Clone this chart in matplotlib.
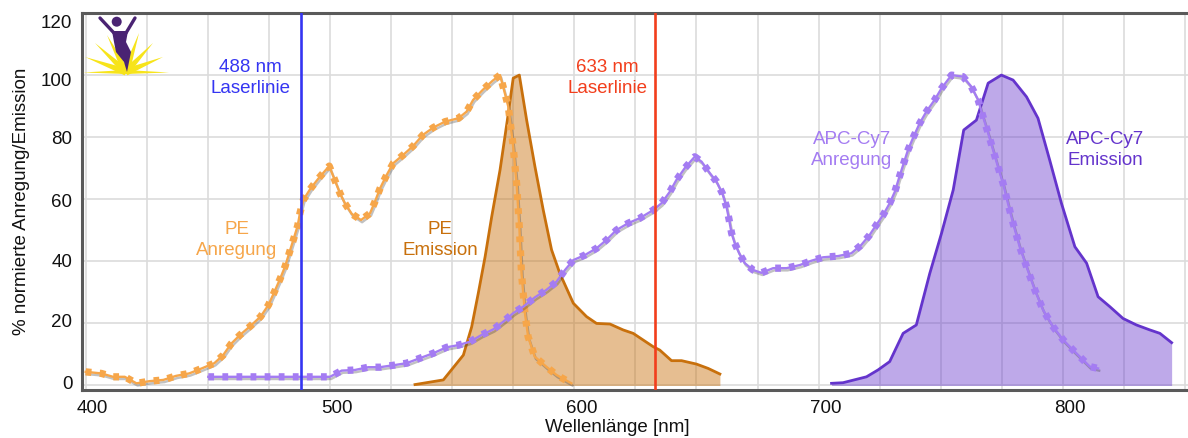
import numpy as np
import matplotlib
matplotlib.use('Agg')
import matplotlib.pyplot as plt
import matplotlib.patheffects as pe
from matplotlib.patches import Polygon, Circle
from matplotlib.transforms import ScaledTranslation

plt.rcParams['font.family'] = ['Liberation Sans', 'DejaVu Sans']

# PE Anregung (Excitation)
pe_ex_x = [400.0, 406.4, 411.2, 416.0, 420.8, 426.2, 431.8, 437.0, 442.4, 447.5,
           452.7, 456.3, 459.5, 463.2, 467.5, 471.6, 474.8, 477.1, 479.5, 481.6,
           483.3, 485.0, 486.8, 487.7, 489.1, 492.1, 495.6, 499.7, 501.4, 504.1,
           506.1, 508.9, 512.7, 516.4, 518.4, 520.5, 523.2, 525.9, 530.0, 534.1,
           538.0, 542.3, 547.1, 552.6, 555.9, 558.6, 562.5, 566.6, 569.6, 571.6,
           573.0, 575.0, 576.4, 577.5, 578.4, 579.8, 581.1, 583.8, 588.6, 592.7, 598.8]
pe_ex_y = [4.4, 3.9, 2.8, 2.8, 0.7, 1.4, 1.8, 3.1, 3.9, 5.5,
           7.2, 9.8, 13.4, 16.3, 19.2, 22.2, 25.9, 29.9, 34.2, 38.3,
           42.6, 46.9, 51.5, 55.5, 59.8, 63.5, 67.0, 70.7, 67.3, 61.9,
           58.7, 55.3, 53.3, 55.5, 59.2, 63.5, 67.8, 71.6, 74.3, 77.2,
           80.7, 83.1, 85.0, 86.1, 88.2, 92.0, 95.2, 98.2, 100.0, 94.1,
           89.8, 76.9, 65.0, 51.0, 36.1, 23.3, 15.7, 9.3, 6.0, 3.4, 0.7]

# PE Emission
pe_em_x = [534.8, 546.4, 554.6, 558.0, 560.7, 563.5, 566.2, 569.6, 572.6, 575.0,
           577.5, 580.5, 583.9, 587.3, 590.7, 594.1, 599.6, 605.0, 609.1, 614.6,
           620.0, 624.1, 632.3, 635.0, 639.8, 643.9, 650.0, 654.8, 659.6]
pe_em_y = [0.3, 1.8, 9.8, 18.9, 29.7, 41.5, 54.4, 69.4, 85.5, 99.0,
           100.0, 85.5, 70.5, 56.5, 43.7, 36.1, 26.5, 22.2, 20.0, 19.8,
           17.9, 16.8, 12.5, 11.4, 8.0, 8.0, 6.9, 5.5, 3.7]

# APC-Cy7 Anregung
apc_ex_x = [450.2, 455.7, 461.0, 466.5, 472.0, 477.5, 483.0, 488.5, 494.5, 500.0,
            504.8, 510.2, 515.7, 520.5, 526.6, 531.4, 536.8, 542.3, 547.7, 552.5,
            557.3, 562.1, 566.9, 571.0, 575.0, 579.1, 583.9, 588.6, 592.7, 596.2,
            599.6, 604.3, 609.1, 613.2, 617.3, 622.1, 626.8, 632.3, 635.7, 639.1,
            641.8, 645.2, 649.3, 652.1, 655.5, 658.2, 660.6, 662.3, 663.4, 664.4,
            665.7, 667.5, 669.8, 673.2, 676.6, 681.4, 686.9, 692.3, 697.1, 701.8,
            708.0, 713.4, 717.5, 720.9, 723.6, 726.4, 729.1, 731.2, 732.9, 734.6,
            736.6, 738.9, 741.4, 744.1, 747.5, 750.3, 754.4, 759.1, 762.5, 765.3,
            767.3, 769.4, 771.4, 773.4, 775.5, 777.5, 779.6, 782.3, 785.1, 788.5,
            791.9, 796.0, 800.1, 804.2, 808.3, 811.0, 814.4]
apc_ex_y = [2.8, 2.8, 2.8, 2.8, 2.8, 2.8, 2.8, 2.8, 2.8, 2.8,
            4.8, 5.0, 5.9, 5.9, 6.6, 7.2, 8.8, 10.4, 12.3, 13.0,
            14.1, 16.3, 18.1, 20.6, 23.3, 25.4, 28.4, 30.8, 33.4, 37.2,
            40.4, 42.0, 44.2, 46.9, 50.1, 52.3, 53.9, 56.5, 58.7, 62.4,
            66.2, 70.0, 73.7, 72.1, 68.4, 65.7, 61.9, 57.6, 53.3, 49.0,
            45.8, 42.6, 39.4, 37.2, 36.3, 37.8, 37.8, 38.8, 40.2, 41.3,
            41.7, 42.6, 45.3, 48.5, 51.7, 54.9, 58.7, 62.4, 66.8, 71.0,
            75.9, 80.2, 84.5, 88.2, 92.0, 95.7, 100.0, 99.5, 96.3, 92.0,
            86.6, 81.3, 75.9, 70.5, 65.1, 58.7, 52.3, 44.7, 38.3, 30.8,
            24.3, 18.9, 14.7, 11.4, 8.2, 6.1, 5.5]

# APC-Cy7 Emission
apc_em_x = [705.3, 710.0, 719.6, 724.3, 729.1, 734.6, 740.0, 745.5, 750.3, 755.1,
            759.4, 764.6, 769.4, 774.8, 779.6, 785.1, 789.8, 794.6, 799.4, 804.9,
            809.7, 814.4, 819.2, 824.6, 830.1, 835.6, 839.7, 844.5]
apc_em_y = [0.7, 0.9, 2.8, 5.0, 7.7, 16.8, 19.5, 36.1, 49.0, 63.0,
            82.3, 85.5, 97.4, 100.0, 98.4, 93.0, 86.1, 72.6, 58.7, 44.7,
            39.4, 28.6, 25.4, 21.6, 19.5, 17.9, 16.8, 13.8]

laser_lines = [488, 633]
x_ticks = [400, 500, 600, 700, 800]
y_ticks = [0, 20, 40, 60, 80, 100, 120]

c_pe_ex = '#F6A64A'
c_pe_em = '#C8700C'
c_apc_ex = '#A47CF2'
c_apc_em = '#6434CC'
c_488 = '#3535F2'
c_633 = '#F23E1C'

fig = plt.figure(figsize=(11.88, 4.38), dpi=100)
ax = fig.add_axes([82 / 1188, 48 / 438, 1106 / 1188, 377 / 438])
ax.set_xlim(398.5, 851.2)
ax.set_ylim(-1.45, 120)

ax.set_xticks(x_ticks)
ax.set_xticks(np.arange(400, 851, 25), minor=True)
ax.set_yticks(y_ticks)
ax.set_axisbelow(True)
ax.grid(which='both', color='#dcdcdc', lw=1.2)
ax.tick_params(which='both', length=0, labelsize=13.5, pad=7, labelcolor='#111111')
for lab in ax.get_xticklabels():
    lab.set_transform(lab.get_transform() + ScaledTranslation(7 / 100, 0, fig.dpi_scale_trans))
# y-Beschriftungen sitzen im Original leicht versetzt
for lab, dy in zip(ax.get_yticklabels(), [3, 3, 1, -1, 0, -4, -9]):
    lab.set_transform(lab.get_transform() + ScaledTranslation(0, dy / 100, fig.dpi_scale_trans))

for s in ['left', 'bottom', 'top']:
    ax.spines[s].set_color('#5a5a5a')
    ax.spines[s].set_linewidth(2.2)
ax.spines['right'].set_visible(False)

# Emissionen (gefuellt)
ax.fill_between(pe_em_x, 0, pe_em_y, color=c_pe_em, alpha=0.45, lw=0, zorder=2)
ax.plot(pe_em_x, pe_em_y, color=c_pe_em, lw=2, zorder=2.5)
ax.fill_between(apc_em_x, 0, apc_em_y, color=c_apc_em, alpha=0.42, lw=0, zorder=2)
ax.plot(apc_em_x, apc_em_y, color=c_apc_em, lw=2, zorder=2.5)


def dotted(x, y, col, z):
    shadow = [pe.SimpleLineShadow(offset=(0.8, -1.6), shadow_color='#333333', alpha=0.3), pe.Normal()]
    ax.plot(x, y, color=col, lw=1.7, zorder=z, path_effects=shadow)
    ax.plot(x, y, color=col, lw=5.2, dashes=(0.8, 1.15), dash_capstyle='butt',
            zorder=z + 0.1)


# Anregungen (gepunktet)
dotted(pe_ex_x, pe_ex_y, c_pe_ex, 3)
dotted(apc_ex_x, apc_ex_y, c_apc_ex, 3.5)

ax.axvline(laser_lines[0], color=c_488, lw=1.9, zorder=5)
ax.axvline(laser_lines[1], color=c_633, lw=1.9, zorder=5)

fs = 13.5
ls = 1.3
ax.text(467.3, 99, '488 nm\nLaserlinie', color=c_488, fontsize=fs, ha='center', va='center', linespacing=ls)
ax.text(613.4, 99, '633 nm\nLaserlinie', color=c_633, fontsize=fs, ha='center', va='center', linespacing=ls)
ax.text(461.9, 47, 'PE\nAnregung', color=c_pe_ex, fontsize=fs, ha='center', va='center', linespacing=ls)
ax.text(545.0, 47, 'PE\nEmission', color=c_pe_em, fontsize=fs, ha='center', va='center', linespacing=ls)
ax.text(713.7, 76, 'APC-Cy7\nAnregung', color=c_apc_ex, fontsize=fs, ha='center', va='center', linespacing=ls)
ax.text(817.2, 76, 'APC-Cy7\nEmission', color=c_apc_em, fontsize=fs, ha='center', va='center', linespacing=ls)

fig.text(617 / 1188, 1 - 427 / 438, 'Wellenlänge [nm]', fontsize=fs, ha='center', va='center', color='#111111')
fig.text(22 / 1188, 1 - 201 / 438, '% normierte Anregung/Emission', fontsize=fs, ha='center', va='center',
         rotation=90, color='#111111')

# Logo oben links
lg = fig.add_axes([82 / 1188, 1 - 76 / 438, 90 / 1188, 62 / 438])
lg.set_xlim(0, 90)
lg.set_ylim(0, 62)
lg.axis('off')
origin = np.array([44.0, 4.0])
tips = [(1, 3.5), (3, 19), (13, 33), (25, 41), (87, 3.5), (81, 19), (71, 33), (57, 43)]
for t in tips:
    t = np.array(t, dtype=float)
    d = t - origin
    n = np.array([-d[1], d[0]]) / np.hypot(*d)
    w = 2.0 if abs(d[1]) < 1 else 3.6
    lg.add_patch(Polygon([origin + n * w, origin - n * w, t], closed=True, color='#F7E41A', lw=0))
purple = '#4A2373'
lg.add_patch(Polygon([(30, 45), (46, 45), (44, 34), (49, 24), (45, 4), (42, 14), (34, 24), (32, 34)],
                     closed=True, color=purple, lw=0))
lg.plot([32, 18], [43, 58], color=purple, lw=2.4, solid_capstyle='round')
lg.plot([44, 53], [43, 58], color=purple, lw=2.4, solid_capstyle='round')
lg.add_patch(Circle((34.7, 54.3), 5, color=purple, lw=0))

fig.savefig('out.png', dpi=100)
